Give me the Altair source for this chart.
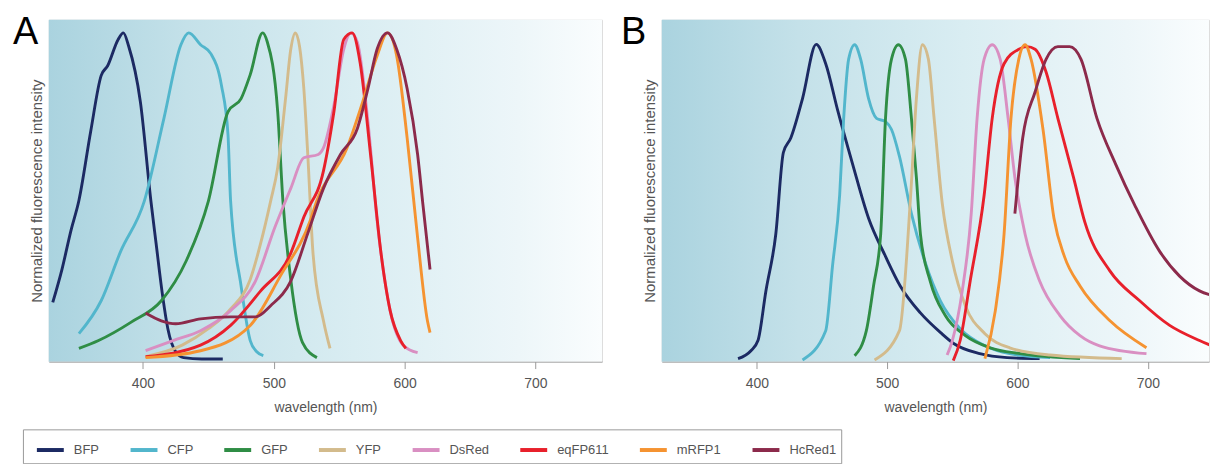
import altair as alt
import pandas as pd

# ---------------- data ----------------
proteins = ["BFP", "CFP", "GFP", "YFP", "DsRed", "eqFP611", "mRFP1", "HcRed1"]
colors = ["#1c2a63", "#52b6cc", "#2f8d45", "#d3bb8c", "#d98fc2", "#e8202b", "#f59331", "#8c2a4b"]
panel_labels = ["A", "B"]
x_ticks = [400, 500, 600, 700]

# Panel A (excitation)
bfp_a_nm = [331, 338, 345, 351, 360, 368, 373, 381, 385, 389, 398, 406, 410, 415, 419, 425, 431, 445, 461]
bfp_a_val = [0.18, 0.28, 0.40, 0.49, 0.70, 0.87, 0.90, 0.98, 1.0, 0.96, 0.79, 0.49, 0.36, 0.20, 0.10, 0.03, 0.012, 0.008, 0.008]
cfp_a_nm = [351, 368, 383, 401, 416, 429, 435, 444, 452, 460, 465, 467, 475, 482, 487, 492]
cfp_a_val = [0.085, 0.185, 0.336, 0.488, 0.74, 0.964, 1.0, 0.964, 0.936, 0.84, 0.69, 0.488, 0.23, 0.064, 0.03, 0.018]
gfp_a_nm = [351, 366, 391, 414, 433, 450, 465, 475, 482, 491.5, 495, 503, 507, 513, 522, 533]
gfp_a_val = [0.04, 0.064, 0.12, 0.185, 0.306, 0.488, 0.76, 0.80, 0.873, 1.0, 0.973, 0.76, 0.488, 0.25, 0.058, 0.012]
yfp_a_nm = [402, 430, 450, 467, 482, 490, 497.6, 503, 509, 513, 516.5, 523, 526, 530, 538, 543]
yfp_a_val = [0.015, 0.05, 0.10, 0.16, 0.25, 0.36, 0.488, 0.59, 0.80, 0.95, 1.0, 0.83, 0.63, 0.33, 0.124, 0.04]
dsred_a_nm = [402, 423, 444, 467, 486, 501, 513, 523, 534, 538, 546, 553.5, 559, 564, 572, 579, 589, 599, 610]
dsred_a_val = [0.033, 0.064, 0.094, 0.155, 0.245, 0.41, 0.527, 0.62, 0.63, 0.65, 0.78, 0.95, 1.0, 0.97, 0.73, 0.43, 0.155, 0.05, 0.027]
eqfp_a_nm = [402, 444, 467, 490, 513, 523, 538, 546, 553.5, 560, 566, 574, 582, 589, 597, 601]
eqfp_a_val = [0.015, 0.05, 0.11, 0.215, 0.33, 0.44, 0.58, 0.76, 0.98, 1.0, 0.91, 0.63, 0.33, 0.155, 0.064, 0.04]
mrfp_a_nm = [402, 444, 482, 505, 528, 533, 556, 568, 579, 587, 594, 602, 610, 617.5, 619.5]
mrfp_a_val = [0.012, 0.033, 0.11, 0.26, 0.43, 0.49, 0.65, 0.79, 0.93, 1.0, 0.93, 0.68, 0.376, 0.124, 0.088]
hcred_a_nm = [402, 414, 425, 444, 467, 486, 497.6, 513, 526, 538, 551, 564, 572, 579, 587, 594, 602, 610, 614, 619.5]
hcred_a_val = [0.148, 0.124, 0.115, 0.13, 0.136, 0.136, 0.17, 0.245, 0.39, 0.527, 0.63, 0.71, 0.83, 0.95, 1.0, 0.95, 0.83, 0.63, 0.48, 0.28]

# Panel B (emission)
bfp_b_nm = [385.5, 395.4, 400.8, 406.9, 414.5, 420.3, 426, 435, 445.5, 452.8, 462, 473.5, 485.7, 498.7, 510, 525.5, 541, 551, 571, 592, 617]
bfp_b_val = [0.009, 0.033, 0.064, 0.215, 0.388, 0.636, 0.68, 0.80, 0.965, 0.906, 0.764, 0.60, 0.436, 0.32, 0.23, 0.148, 0.088, 0.055, 0.024, 0.012, 0.009]
cfp_b_nm = [435, 452.8, 458, 463.5, 466.6, 470.4, 475, 479.6, 485.7, 491.8, 498.7, 503.3, 509.4, 518.6, 529.3, 540.8, 556, 575, 594, 625]
cfp_b_val = [0.005, 0.094, 0.29, 0.506, 0.74, 0.92, 0.964, 0.92, 0.80, 0.74, 0.73, 0.706, 0.624, 0.45, 0.30, 0.185, 0.10, 0.048, 0.024, 0.012]
gfp_b_nm = [475, 484, 489.5, 495, 498.7, 503.3, 508.6, 514, 518.6, 522.4, 525.5, 533, 544.6, 560, 579, 602, 648]
gfp_b_val = [0.018, 0.094, 0.23, 0.388, 0.74, 0.92, 0.964, 0.92, 0.74, 0.56, 0.388, 0.245, 0.14, 0.079, 0.042, 0.024, 0.009]
yfp_b_nm = [490.3, 509.4, 518, 522.4, 527, 531.6, 536, 542.3, 550, 560, 575, 594, 625, 680]
yfp_b_val = [0.005, 0.094, 0.506, 0.80, 0.964, 0.92, 0.74, 0.48, 0.306, 0.17, 0.085, 0.042, 0.02, 0.009]
dsred_b_nm = [546, 550, 557.6, 564.5, 569, 574.4, 580.6, 586.7, 592.8, 598, 605.8, 617, 632.6, 648, 663, 699]
dsred_b_val = [0.02, 0.064, 0.215, 0.45, 0.74, 0.92, 0.964, 0.92, 0.74, 0.56, 0.388, 0.245, 0.14, 0.079, 0.048, 0.024]
eqfp_b_nm = [550.7, 556, 563.7, 574.4, 580.6, 589.7, 601, 607.3, 613.5, 622, 631, 643, 651.7, 670.9, 693.8, 716.8, 739.7, 751]
eqfp_b_val = [0.003, 0.064, 0.245, 0.506, 0.74, 0.906, 0.95, 0.958, 0.95, 0.88, 0.74, 0.56, 0.424, 0.276, 0.185, 0.11, 0.064, 0.045]
mrfp_b_nm = [575, 583, 589.7, 595, 601, 605.8, 610.4, 619.6, 628, 636, 648, 671, 699]
mrfp_b_val = [0.009, 0.155, 0.388, 0.74, 0.92, 0.964, 0.92, 0.706, 0.436, 0.32, 0.23, 0.124, 0.042]
hcred_b_nm = [598, 604, 613.5, 622, 631, 640, 648.7, 661, 675.4, 690.7, 709, 724.4, 739.7, 751]
hcred_b_val = [0.45, 0.68, 0.82, 0.92, 0.958, 0.958, 0.92, 0.74, 0.60, 0.47, 0.336, 0.26, 0.215, 0.20]

series_a = [(bfp_a_nm, bfp_a_val), (cfp_a_nm, cfp_a_val), (gfp_a_nm, gfp_a_val), (yfp_a_nm, yfp_a_val),
            (dsred_a_nm, dsred_a_val), (eqfp_a_nm, eqfp_a_val), (mrfp_a_nm, mrfp_a_val), (hcred_a_nm, hcred_a_val)]
series_b = [(bfp_b_nm, bfp_b_val), (cfp_b_nm, cfp_b_val), (gfp_b_nm, gfp_b_val), (yfp_b_nm, yfp_b_val),
            (dsred_b_nm, dsred_b_val), (eqfp_b_nm, eqfp_b_val), (mrfp_b_nm, mrfp_b_val), (hcred_b_nm, hcred_b_val)]


def make_df(series):
    rows = []
    for k, (prot, (nms, vals)) in enumerate(zip(proteins, series)):
        for n, v in zip(nms, vals):
            rows.append({"protein": prot, "k": k, "nm": n, "val": v})
    return pd.DataFrame(rows)


df_a = make_df(series_a)
df_b = make_df(series_b)

FONT = "Liberation Sans"
TXT = "#555555"
H = 343

gradient = alt.Gradient(
    gradient="linear",
    stops=[
        alt.GradientStop(color="#aad3df", offset=0),
        alt.GradientStop(color="#c4e1e9", offset=0.25),
        alt.GradientStop(color="#d9edf2", offset=0.55),
        alt.GradientStop(color="#edf6f9", offset=0.85),
        alt.GradientStop(color="#fafdfe", offset=1),
    ],
    x1=0, x2=1, y1=0, y2=0,
)

color_scale = alt.Scale(domain=proteins, range=colors)


def panel(df, label, width, xdom, lx):
    bg = alt.Chart(alt.Data(values=[{"a": 1}])).mark_rect(color=gradient).encode(
        x=alt.value(0), x2=alt.value(width), y=alt.value(0), y2=alt.value(H)
    )
    lines = alt.Chart(df).mark_line(strokeWidth=2.9, interpolate="monotone", clip=True).encode(
        x=alt.X("nm:Q", scale=alt.Scale(domain=xdom, nice=False, zero=False),
                axis=alt.Axis(values=x_ticks, title="wavelength (nm)", format="d", tickSize=7, labelPadding=8,
                              labelFontSize=14, labelColor=TXT, titleFontSize=14, titleFontWeight="normal",
                              titleColor=TXT, titlePadding=10, domainColor="#9a9a9a", tickColor="#9a9a9a",
                              grid=False, labelFont=FONT, titleFont=FONT)),
        y=alt.Y("val:Q", scale=alt.Scale(domain=[0, 1.04], nice=False),
                axis=alt.Axis(title="Normalized fluorescence intensity", labels=False, ticks=False, grid=False,
                              domain=True, domainColor="#c6d6dc", titlePadding=4, titleFontSize=15,
                              titleFontWeight="normal", titleColor=TXT, titleFont=FONT)),
        color=alt.Color("protein:N", scale=color_scale, sort=proteins,
                        legend=alt.Legend(orient="none", legendX=-26, legendY=411, direction="horizontal",
                                          title=None, symbolType="stroke", symbolSize=729, symbolStrokeWidth=4,
                                          symbolOffset=7,
                                          labelFontSize=13, labelColor=TXT, labelFont=FONT, labelOffset=8,
                                          columnPadding=22, strokeColor="#9a9a9a", padding=5,
                                          fillColor="white")),
        order=alt.Order("k:Q"),
    )
    txt = alt.Chart(alt.Data(values=[{"t": label}])).mark_text(
        fontSize=38, font=FONT, align="left", baseline="alphabetic", color="black"
    ).encode(x=alt.value(lx), y=alt.value(24), text="t:N")
    return alt.layer(bg, lines, txt).properties(width=width, height=H)


pa = panel(df_a, panel_labels[0], 555, [328, 751], -36)
pb = panel(df_b, panel_labels[1], 549, [327, 747], -41)

chart = alt.hconcat(pa, pb, spacing=17).properties(
    padding={"left": 12, "top": 12, "right": 0, "bottom": 0}
).configure_view(stroke=None).configure(font=FONT, background="white")

chart.save("out.html", embed_options={"renderer": "svg", "actions": False})
